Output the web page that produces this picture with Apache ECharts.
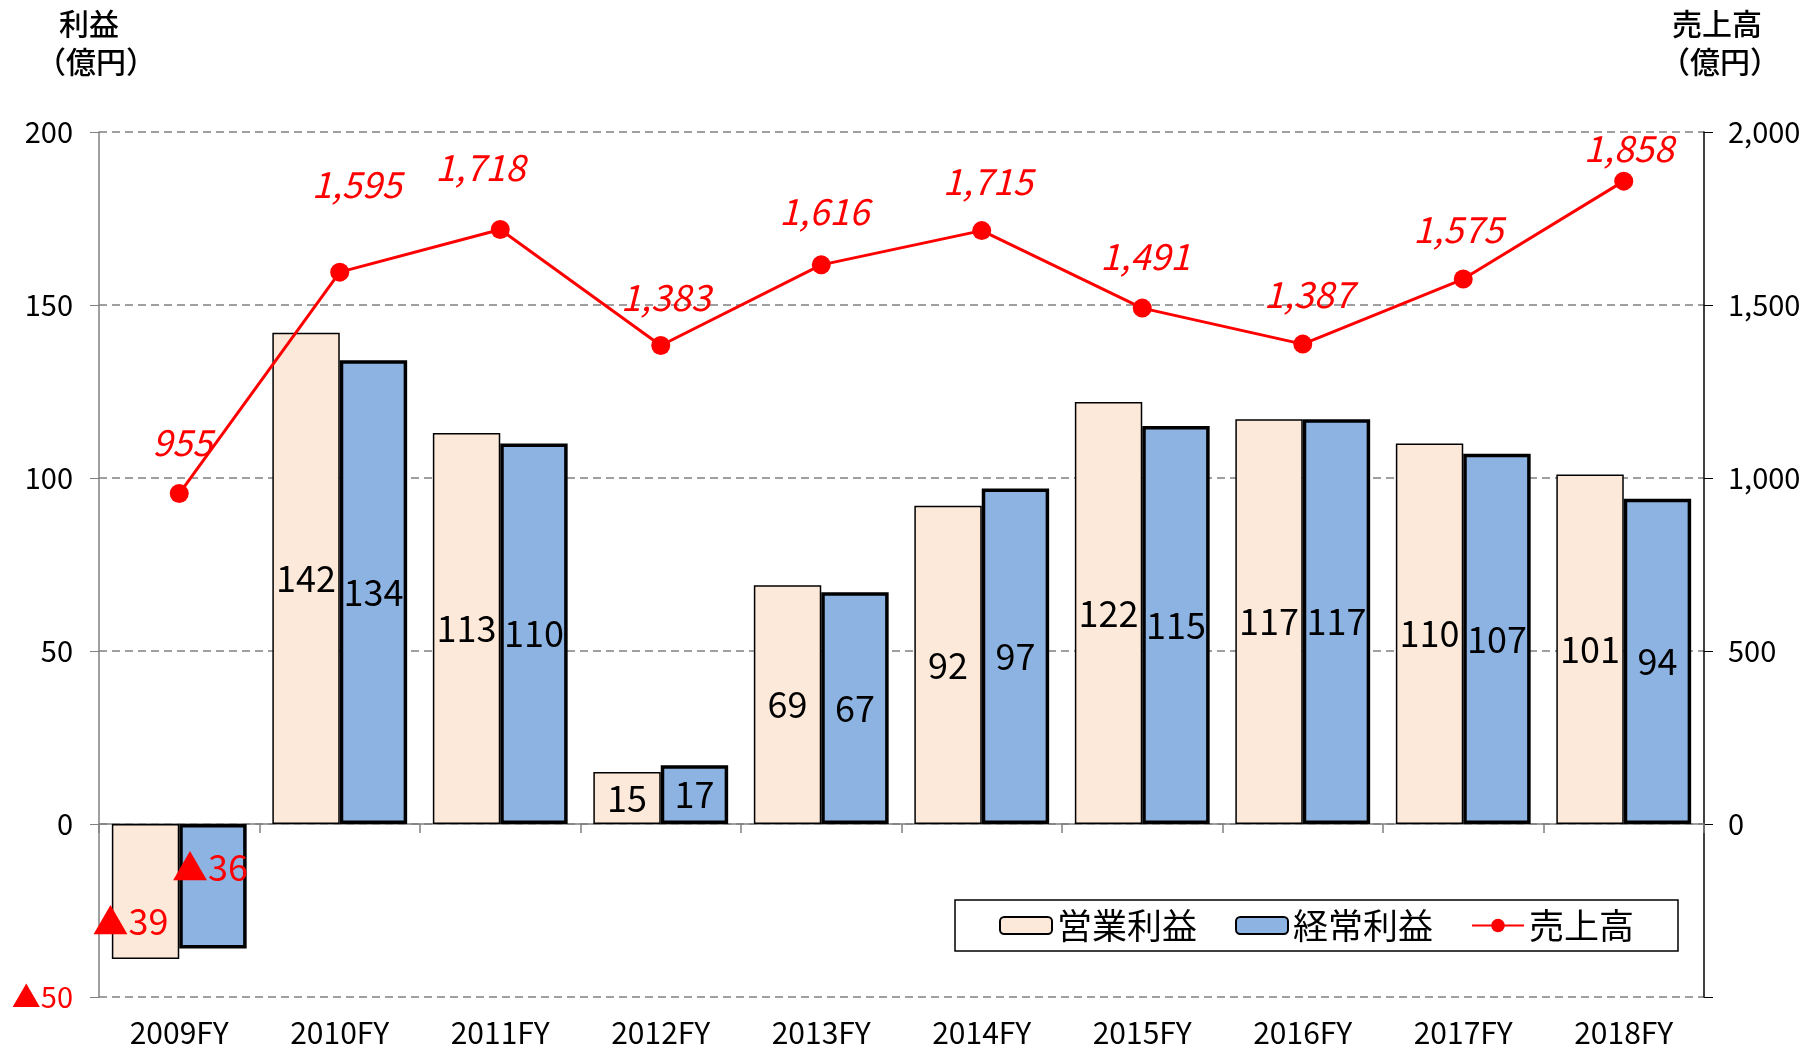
<!DOCTYPE html>
<html>
<head>
<meta charset="utf-8">
<script src="https://cdn.jsdelivr.net/npm/echarts@6/dist/echarts.min.js"></script>
<style>
html,body{margin:0;padding:0;background:#fff;}
#chart{width:1804px;height:1045px;}
</style>
</head>
<body>
<div id="chart"></div>
<script>
// 年度
var years = ['2009FY','2010FY','2011FY','2012FY','2013FY','2014FY','2015FY','2016FY','2017FY','2018FY'];
// 営業利益（億円）
var opProfit = [-39, 142, 113, 15, 69, 92, 122, 117, 110, 101];
// 経常利益（億円）
var ordProfit = [-36, 134, 110, 17, 67, 97, 115, 117, 107, 94];
// 売上高（億円）
var sales = [955, 1595, 1718, 1383, 1616, 1715, 1491, 1387, 1575, 1858];

var FONT = '"Noto Sans CJK JP", "Noto Sans", sans-serif';

// 売上高ラベルの位置調整
var salesLabelOffset = [[3,-24],[17,-60],[-20,-35],[5,-21],[3,-26],[6,-22],[3,-24],[6,-22],[-5,-22],[5,-5]];
// マイナス値ラベルの位置調整
var negOffset = {op:[-15,30], ord:[-3,-19]};

function fmtProfit(v){
    return v < 0 ? '▲' + Math.abs(v) : String(v);
}
function barData(arr, key){
    return arr.map(function(v){
        if (v < 0){
            return {value:v, label:{color:'#ff0000', offset:negOffset[key]}};
        }
        return v;
    });
}

var chart = echarts.init(document.getElementById('chart'));
var option = {
    animation: false,
    textStyle: {fontFamily: FONT},
    grid: {left: 99, right: 100, top: 132, bottom: 48, outerBoundsMode: 'none'},
    legend: {
        left: 955, top: 900,
        padding: [8, 44],
        itemGap: 38,
        itemWidth: 52, itemHeight: 17,
        borderColor: '#000', borderWidth: 1.5,
        textStyle: {fontSize: 35, color: '#000', fontFamily: FONT},
        data: ['営業利益','経常利益','売上高']
    },
    graphic: [
        {type:'text', left: 59, top: 9, style:{text:'利益', fill:'#000', font:'500 30px ' + FONT}},
        {type:'text', left: 36, top: 47, style:{text:'（億円）', fill:'#000', font:'500 30px ' + FONT}},
        {type:'text', left: 1672, top: 9, style:{text:'売上高', fill:'#000', font:'500 30px ' + FONT}},
        {type:'text', left: 1660, top: 47, style:{text:'（億円）', fill:'#000', font:'500 30px ' + FONT}}
    ],
    xAxis: [
        {
            type: 'category',
            data: years,
            axisLine: {onZero: true, lineStyle: {color: '#808080', width: 1.5}},
            axisTick: {show: true, length: 9, lineStyle: {color: '#808080', width: 1.5}},
            axisLabel: {show: false}
        },
        {
            type: 'category',
            data: years,
            position: 'bottom',
            axisLine: {show: false, onZero: false},
            axisTick: {show: false},
            axisLabel: {margin: 21, fontSize: 30, color: '#000', fontFamily: FONT}
        }
    ],
    yAxis: [
        {
            type: 'value',
            min: -50, max: 200, interval: 50,
            axisLine: {show: true, lineStyle: {color: '#808080', width: 1.5}},
            axisTick: {show: true, length: 9, lineStyle: {color: '#808080'}},
            axisLabel: {
                margin: 26, fontSize: 29, color: '#000',
                formatter: function(v){ return v < 0 ? '{neg|▲' + Math.abs(v) + '}' : String(v); },
                rich: {neg: {color: '#ff0000', fontSize: 29, fontFamily: FONT}}
            },
            splitLine: {show: true, lineStyle: {color: '#808080', type: [8, 5], width: 1.5}}
        },
        {
            type: 'value',
            min: -500, max: 2000, interval: 500,
            position: 'right',
            axisLine: {show: true, lineStyle: {color: '#000', width: 1.5}},
            axisTick: {show: true, length: 9, lineStyle: {color: '#000'}},
            axisLabel: {
                margin: 24, fontSize: 29, color: '#000',
                formatter: function(v){ return v < 0 ? '' : echarts.format.addCommas(v); }
            },
            splitLine: {show: false}
        }
    ],
    series: [
        {
            name: '営業利益',
            type: 'bar',
            data: barData(opProfit, 'op'),
            barGap: '0%',
            barCategoryGap: '16%',
            itemStyle: {color: '#fde9d9', borderColor: '#000', borderWidth: 1.5},
            label: {
                show: true, position: 'inside', fontSize: 36, color: '#000', fontFamily: FONT,
                formatter: function(p){ return fmtProfit(p.value); }
            },
            z: 2
        },
        {
            name: '経常利益',
            type: 'bar',
            data: barData(ordProfit, 'ord'),
            itemStyle: {color: '#8db3e2', borderColor: '#000', borderWidth: 3.5},
            label: {
                show: true, position: 'inside', fontSize: 36, color: '#000', fontFamily: FONT,
                formatter: function(p){ return fmtProfit(p.value); }
            },
            z: 2
        },
        {
            name: '売上高',
            type: 'line',
            yAxisIndex: 1,
            data: sales.map(function(v, i){
                return {value: v, label: {offset: salesLabelOffset[i]}};
            }),
            symbol: 'circle',
            symbolSize: 19,
            itemStyle: {color: '#ff0000'},
            lineStyle: {color: '#ff0000', width: 3},
            label: {
                show: true, position: 'top', distance: 0,
                fontSize: 36, fontStyle: 'italic', color: '#ff0000', fontFamily: FONT,
                formatter: function(p){ return echarts.format.addCommas(p.value); }
            },
            z: 5
        }
    ]
};
chart.setOption(option);
</script>
</body>
</html>
